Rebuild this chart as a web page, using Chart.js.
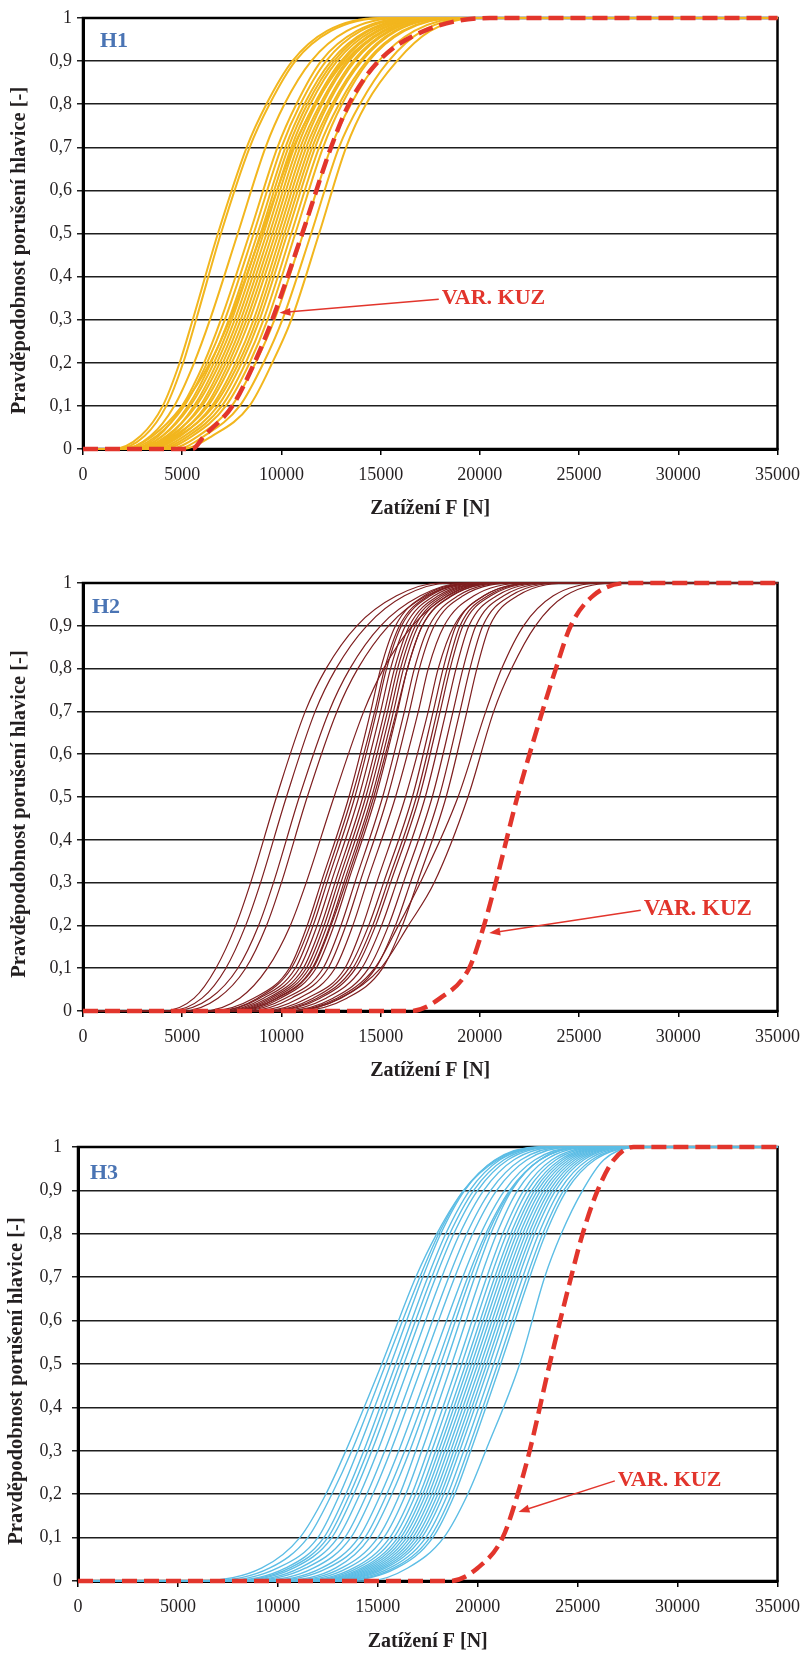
<!DOCTYPE html>
<html>
<head>
<meta charset="utf-8">
<script src="https://cdn.jsdelivr.net/npm/chart.js@4.4.1/dist/chart.umd.min.js"></script>
<style>
  html, body { margin: 0; padding: 0; background: #fff; overflow: hidden; }
  canvas { position: absolute; left: 0; }
</style>
</head>
<body>
<canvas id="h1"></canvas>
<canvas id="h2"></canvas>
<canvas id="h3"></canvas>
<script>
// probability levels, each curve lists the load F [N] at these levels
const probLevels = [0, 0.03, 0.1, 0.2, 0.3, 0.5, 0.7, 0.8, 0.9, 0.97, 1];

const h1Curves = [
  [1500, 2900, 4020, 4870, 5530, 6800, 8250, 9240, 10550, 12300, 15000],
  [1700, 3100, 4200, 5050, 5700, 6950, 8400, 9400, 10700, 12500, 15200],
  [2000, 3400, 4600, 5600, 6400, 7800, 9200, 10150, 11500, 13300, 16000],
  [2400, 3800, 5000, 6100, 6950, 8400, 9800, 10750, 12000, 13800, 16500],
  [2200, 3700, 5100, 6250, 7150, 8600, 10000, 10950, 12250, 14000, 16800],
  [2600, 4000, 5300, 6450, 7350, 8800, 10200, 11150, 12500, 14300, 17000],
  [2500, 4000, 5400, 6600, 7500, 8950, 10350, 11300, 12650, 14400, 17200],
  [2000, 3500, 5000, 6400, 7400, 9000, 10600, 11700, 13200, 15200, 18000],
  [2800, 4300, 5600, 6750, 7650, 9100, 10500, 11450, 12800, 14600, 17300],
  [2700, 4200, 5700, 6900, 7800, 9250, 10650, 11650, 13000, 14800, 17500],
  [3000, 4500, 5900, 7050, 7950, 9400, 10800, 11750, 13100, 14900, 17600],
  [2900, 4400, 6000, 7200, 8100, 9550, 10950, 11950, 13300, 15100, 17800],
  [3200, 4700, 6200, 7350, 8250, 9700, 11100, 12050, 13400, 15200, 17900],
  [3100, 4600, 6300, 7500, 8400, 9850, 11250, 12250, 13600, 15400, 18100],
  [3400, 4900, 6500, 7700, 8600, 10000, 11400, 12350, 13700, 15500, 18200],
  [3300, 4800, 6600, 7850, 8750, 10150, 11550, 12550, 13950, 15700, 18400],
  [3600, 5100, 6800, 8000, 8900, 10300, 11700, 12650, 14050, 15800, 18500],
  [3800, 5300, 7000, 8200, 9100, 10500, 11900, 12900, 14300, 16100, 18700],
  [4000, 5500, 7200, 8400, 9300, 10700, 12100, 13050, 14400, 16200, 18800],
  [4300, 5800, 7500, 8700, 9650, 11100, 12500, 13500, 14900, 16700, 19200],
  [4700, 6100, 7900, 9100, 10050, 11500, 12900, 13950, 15400, 17100, 19500],
  [5000, 6500, 8390, 9540, 10500, 11900, 13260, 14260, 15820, 17500, 19800]
];
const h1Kuz = [5500, 6100, 7530, 8640, 9540, 11050, 12500, 13400, 14900, 17200, 20500];

const h2Curves = [
  [4000, 5600, 6700, 7700, 8450, 9750, 11200, 12250, 13800, 15800, 18000],
  [4300, 6000, 7200, 8200, 8950, 10250, 11700, 12750, 14300, 16200, 18500],
  [4500, 6400, 7800, 8850, 9600, 10900, 12400, 13450, 15000, 17000, 19200],
  [5000, 6800, 8200, 9250, 10000, 11300, 12800, 13850, 15400, 17300, 19600],
  [6000, 7900, 9300, 10450, 11250, 12650, 14150, 15150, 16600, 18400, 20500],
  [6400, 8600, 10400, 11300, 12000, 13400, 14500, 15000, 15750, 17200, 19900],
  [6700, 8800, 10500, 11450, 12150, 13550, 14700, 15200, 15950, 17400, 20100],
  [6800, 8900, 10700, 11600, 12300, 13700, 14800, 15300, 16050, 17500, 20200],
  [7000, 9100, 10900, 11800, 12500, 13900, 15000, 15500, 16250, 17700, 20400],
  [7100, 9300, 11100, 12000, 12700, 14100, 15200, 15700, 16450, 17900, 20600],
  [7300, 9450, 11250, 12150, 12850, 14250, 15350, 15850, 16600, 18050, 20750],
  [7400, 9600, 11400, 12300, 13000, 14400, 15500, 16000, 16750, 18200, 20900],
  [7600, 9750, 11550, 12450, 13150, 14550, 15650, 16150, 16900, 18350, 21050],
  [7500, 9800, 11600, 12500, 13250, 14650, 15800, 16350, 17100, 18600, 21300],
  [7800, 9950, 11750, 12650, 13350, 14750, 15850, 16350, 17100, 18550, 21250],
  [8000, 10200, 12100, 13000, 13700, 15100, 16200, 16700, 17450, 18900, 21600],
  [8300, 10500, 12350, 13250, 13950, 15350, 16450, 16950, 17700, 19150, 21850],
  [8600, 10900, 12700, 13600, 14300, 15750, 16900, 17400, 18200, 19700, 22300],
  [9000, 11300, 13200, 14100, 14800, 16250, 17400, 17900, 18700, 20200, 22800],
  [9100, 11600, 13400, 14400, 15150, 16600, 17650, 18150, 18800, 20200, 23100],
  [9300, 11800, 13600, 14600, 15350, 16800, 17850, 18350, 19000, 20400, 23300],
  [9450, 11950, 13750, 14750, 15500, 16950, 18000, 18500, 19150, 20550, 23450],
  [9750, 12250, 14050, 15050, 15800, 17250, 18300, 18800, 19450, 20850, 23750],
  [10100, 12600, 14400, 15400, 16150, 17600, 18650, 19150, 19800, 21200, 24100],
  [10450, 12950, 14750, 15750, 16500, 17950, 19000, 19500, 20150, 21550, 24450],
  [10800, 13300, 15100, 16100, 16850, 18300, 19350, 19850, 20500, 21900, 24800],
  [10300, 12800, 14700, 15900, 17000, 18900, 20300, 21100, 22200, 23700, 26200],
  [10500, 13000, 15000, 16400, 17700, 19400, 20700, 21600, 22800, 24300, 27000]
];
const h2Kuz = [16500, 18000, 19460, 20210, 20800, 21890, 23150, 23830, 24580, 25700, 27500];

const h3Curves = [
  [6000, 9200, 11100, 12400, 13400, 15200, 16900, 17950, 19300, 21000, 23400],
  [6500, 9600, 11500, 12700, 13700, 15400, 17100, 18050, 19300, 20900, 23200],
  [7000, 10000, 12000, 13100, 14000, 15650, 17250, 18150, 19350, 20850, 23100],
  [7400, 10400, 12300, 13400, 14300, 15900, 17500, 18400, 19600, 21100, 23400],
  [7600, 10600, 12500, 13600, 14500, 16100, 17700, 18600, 19800, 21300, 23600],
  [7800, 10800, 12700, 13800, 14700, 16300, 17900, 18800, 20000, 21500, 23800],
  [8100, 11100, 13000, 14100, 15000, 16600, 18200, 19100, 20300, 21800, 24100],
  [8400, 11400, 13350, 14450, 15350, 16950, 18550, 19450, 20650, 22150, 24400],
  [8800, 11800, 13650, 14750, 15650, 17250, 18850, 19750, 20950, 22450, 24700],
  [9200, 12200, 14050, 15150, 16050, 17650, 19250, 20150, 21350, 22850, 25100],
  [9500, 12500, 14350, 15450, 16350, 17950, 19500, 20400, 21600, 23100, 25300],
  [10000, 12900, 14600, 15700, 16600, 18150, 19650, 20500, 21650, 23100, 25300],
  [10400, 13200, 15000, 16100, 16900, 18400, 19850, 20650, 21700, 23100, 25400],
  [10700, 13500, 15300, 16400, 17200, 18700, 20150, 20950, 22000, 23400, 25700],
  [11000, 13800, 15600, 16700, 17500, 19000, 20450, 21250, 22300, 23700, 26000],
  [11200, 14000, 15800, 16900, 17700, 19200, 20650, 21450, 22500, 23900, 26200],
  [11400, 14200, 16000, 17100, 17900, 19400, 20850, 21650, 22700, 24100, 26400],
  [11550, 14350, 16150, 17250, 18050, 19550, 21000, 21800, 22850, 24250, 26550],
  [11700, 14500, 16300, 17400, 18200, 19700, 21150, 21950, 23000, 24400, 26700],
  [11850, 14650, 16450, 17550, 18350, 19850, 21300, 22100, 23150, 24550, 26850],
  [12000, 14800, 16600, 17700, 18500, 20000, 21450, 22250, 23300, 24700, 27000],
  [12150, 14950, 16750, 17850, 18650, 20150, 21600, 22400, 23450, 24850, 27150],
  [12300, 15100, 16900, 18000, 18800, 20300, 21750, 22550, 23600, 25000, 27300],
  [12450, 15250, 17050, 18150, 18950, 20450, 21900, 22700, 23750, 25150, 27450],
  [12600, 15400, 17200, 18300, 19100, 20600, 22050, 22850, 23900, 25300, 27600],
  [12800, 15600, 17400, 18500, 19300, 20800, 22250, 23050, 24100, 25500, 27800],
  [13000, 15800, 17600, 18700, 19500, 21000, 22450, 23250, 24300, 25700, 28000],
  [13150, 15950, 17750, 18850, 19650, 21150, 22600, 23400, 24450, 25850, 28100],
  [14500, 16500, 18300, 19500, 20400, 22100, 23350, 24180, 25250, 26300, 28000]
];
const h3Kuz = [18600, 20000, 21250, 22000, 22600, 23600, 24670, 25250, 26000, 26800, 27800];

const loadMax = 35000;
const serif = "'Liberation Serif', 'Times New Roman', serif";
const kuzRed = '#E2352C';
const inkColor = '#231F20';
const yTitle = 'Pravděpodobnost porušení hlavice [-]';

const panels = [
  {id: 'h1', top: 0, height: 530, area: [83, 18, 780, 449], titleY: 509, yTitleX: 20, yTickPad: 5,
   tag: 'H1', tagOff: [17, 23], curves: h1Curves, kuz: h1Kuz, color: '#F2B61E', width: 2,
   note: {label: [18080, 0.35], tip: [9900, 0.316], size: 22}},
  {id: 'h2', top: 560, height: 532, area: [83, 583, 779, 1011], titleY: 1071, yTitleX: 20, yTickPad: 5,
   tag: 'H2', tagOff: [9, 24], curves: h2Curves, kuz: h2Kuz, color: '#7E1E1F', width: 1.2,
   note: {label: [28260, 0.238], tip: [20470, 0.182], size: 23}},
  {id: 'h3', top: 1110, height: 544, area: [78, 1147, 783, 1581], titleY: 1642, yTitleX: 17, yTickPad: 10,
   tag: 'H3', tagOff: [12, 26], curves: h3Curves, kuz: h3Kuz, color: '#5CBDE5', width: 1.4,
   note: {label: [27010, 0.233], tip: [22040, 0.159], size: 22}}
];

function toPoints(xs) {
  const pts = [{x: 0, y: 0}];
  xs.forEach((x, i) => pts.push({x: x, y: probLevels[i]}));
  pts.push({x: loadMax, y: 1});
  return pts;
}

const panelDecor = {
  id: 'panelDecor',
  beforeDatasetsDraw(chart) {
    const {ctx, chartArea: a} = chart;
    ctx.save();
    ctx.strokeStyle = '#000';
    ctx.lineWidth = 2.5;
    ctx.strokeRect(a.left, a.top, a.right - a.left, a.bottom - a.top);
    ctx.restore();
  },
  afterDatasetsDraw(chart, args, opts) {
    const {ctx, chartArea: a} = chart;
    const xs = chart.scales.x, ys = chart.scales.y;
    ctx.save();
    // y axis title, sits a little below the middle of the axis
    ctx.save();
    ctx.translate(opts.yTitleX, (a.top + a.bottom) / 2 + 17);
    ctx.rotate(-Math.PI / 2);
    ctx.font = 'bold 20.5px ' + serif;
    ctx.fillStyle = inkColor;
    ctx.textAlign = 'center';
    ctx.textBaseline = 'middle';
    ctx.fillText(yTitle, 0, 0);
    ctx.restore();

    // panel tag
    ctx.font = 'bold 22px ' + serif;
    ctx.fillStyle = '#4A74B4';
    ctx.textBaseline = 'middle';
    ctx.fillText(opts.tag, a.left + opts.tagOff[0], a.top + opts.tagOff[1]);

    // VAR. KUZ label with arrow to the dashed curve
    const n = opts.note;
    const lx = xs.getPixelForValue(n.label[0]), ly = ys.getPixelForValue(n.label[1]);
    const tx = xs.getPixelForValue(n.tip[0]), ty = ys.getPixelForValue(n.tip[1]);
    ctx.font = 'bold ' + n.size + 'px ' + serif;
    ctx.fillStyle = kuzRed;
    ctx.fillText('VAR. KUZ', lx, ly);
    const sx = lx - 3, sy = ly + 1;
    const ang = Math.atan2(ty - sy, tx - sx);
    ctx.strokeStyle = kuzRed;
    ctx.lineWidth = 1.5;
    ctx.beginPath();
    ctx.moveTo(sx, sy);
    ctx.lineTo(tx - 8 * Math.cos(ang), ty - 8 * Math.sin(ang));
    ctx.stroke();
    ctx.beginPath();
    ctx.moveTo(tx, ty);
    ctx.lineTo(tx - 11 * Math.cos(ang) + 4 * Math.sin(ang), ty - 11 * Math.sin(ang) - 4 * Math.cos(ang));
    ctx.lineTo(tx - 11 * Math.cos(ang) - 4 * Math.sin(ang), ty - 11 * Math.sin(ang) + 4 * Math.cos(ang));
    ctx.closePath();
    ctx.fill();
    ctx.restore();
  }
};

function probLabel(v) {
  const s = v.toFixed(1).replace('.', ',');
  if (s === '0,0') return '0';
  if (s === '1,0') return '1';
  return s;
}

panels.forEach(p => {
  const canvas = document.getElementById(p.id);
  canvas.width = 809;
  canvas.height = p.height;
  canvas.style.top = p.top + 'px';

  const tickFont = {family: serif, size: 18};
  const titleFont = {family: serif, size: 20, weight: 'bold'};
  const bottomEdge = p.top + p.height;

  const common = {
    pointRadius: 0,
    pointHoverRadius: 0,
    fill: false,
    cubicInterpolationMode: 'monotone',
    clip: false
  };

  const datasets = [
    Object.assign({data: toPoints(p.kuz), borderColor: kuzRed, borderWidth: 4.5, borderDash: [15, 7], borderCapStyle: 'butt'}, common)
  ];
  p.curves.forEach(c => {
    datasets.push(Object.assign({data: toPoints(c), borderColor: p.color, borderWidth: p.width}, common));
  });

  new Chart(canvas, {
    type: 'line',
    data: {datasets: datasets},
    options: {
      responsive: false,
      animation: false,
      events: [],
      layout: {padding: {left: 0, top: p.area[1] - p.top, right: 809 - p.area[2], bottom: 0}},
      plugins: {
        legend: {display: false},
        tooltip: {enabled: false},
        panelDecor: {tag: p.tag, tagOff: p.tagOff, note: p.note, yTitleX: p.yTitleX}
      },
      scales: {
        x: {
          type: 'linear', min: 0, max: loadMax,
          afterFit: s => { s.height = bottomEdge - p.area[3]; },
          ticks: {stepSize: 5000, padding: 9, color: inkColor, font: tickFont, maxRotation: 0, autoSkip: false,
                  callback: v => String(v)},
          grid: {drawOnChartArea: false, tickLength: 6, color: '#000', lineWidth: 1.5},
          border: {color: '#000', width: 3},
          title: {display: true, text: 'Zatížení F [N]', color: inkColor, font: titleFont,
                  padding: {top: 0, bottom: bottomEdge - p.titleY - 12}}
        },
        y: {
          min: 0, max: 1,
          afterFit: s => { s.width = p.area[0]; },
          ticks: {stepSize: 0.1, padding: p.yTickPad, color: inkColor, font: tickFont, callback: probLabel},
          grid: {color: '#1E1E1E', lineWidth: 1.5, tickLength: 6},
          border: {color: '#000', width: 3}
        }
      }
    },
    plugins: [panelDecor]
  });
});
</script>
</body>
</html>
